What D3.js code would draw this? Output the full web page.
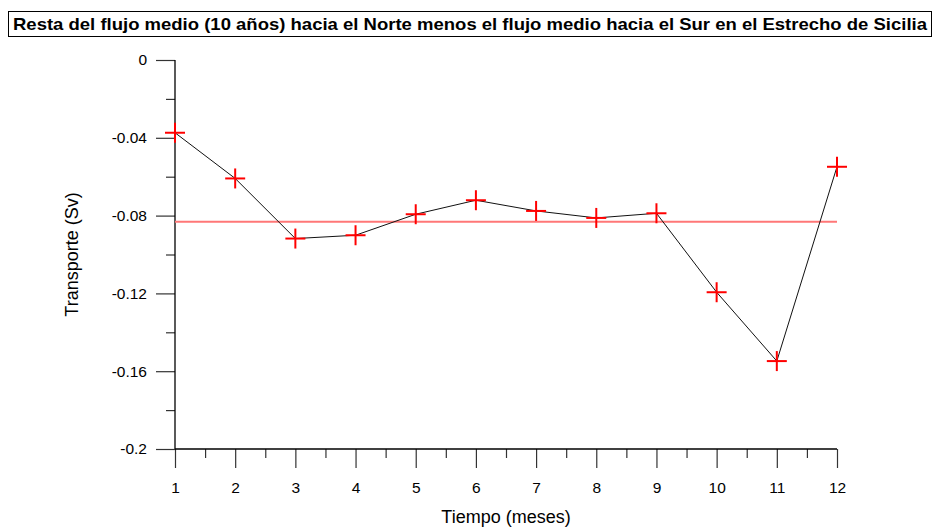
<!DOCTYPE html>
<html>
<head>
<meta charset="utf-8">
<script src="https://cdn.jsdelivr.net/npm/d3@7"></script>
<style>
  body { margin: 0; background: #fff; }
  svg { display: block; font-family: "Liberation Sans", Arial, sans-serif; }
</style>
</head>
<body>
<svg id="chart"></svg>
<script>
const months = [1, 2, 3, 4, 5, 6, 7, 8, 9, 10, 11, 12];
const transport = [-0.0374, -0.0609, -0.0918, -0.0901, -0.0793, -0.0721,
                   -0.0776, -0.0812, -0.0788, -0.1194, -0.1548, -0.0549];
const yTicks = [0, -0.04, -0.08, -0.12, -0.16, -0.2];
const yTickLabels = ['0', '-0.04', '-0.08', '-0.12', '-0.16', '-0.2'];
const yMinorTicks = [-0.02, -0.06, -0.10, -0.14, -0.18];
const xMinorTicks = [1.5, 2.5, 3.5, 4.5, 5.5, 6.5, 7.5, 8.5, 9.5, 10.5, 11.5];
const meanValue = d3.mean(transport);

const width = 937,
      height = 528,
      margin = { top: 60, right: 100, bottom: 79, left: 175 };

const $chart = d3.select('#chart')
                 .attr('width', width)
                 .attr('height', height);

const x = d3.scaleLinear()
  .domain([1, 12])
  .range([margin.left, width - margin.right]);

const y = d3.scaleLinear()
  .domain([-0.2, 0])
  .range([height - margin.bottom, margin.top]);

// title box
$chart.append('rect')
  .attr('x', 8.5)
  .attr('y', 11.5)
  .attr('width', 923)
  .attr('height', 25)
  .attr('fill', 'none')
  .attr('stroke', '#000')
  .attr('stroke-width', 1);

$chart.append('text')
  .attr('x', 470)
  .attr('y', 30)
  .attr('text-anchor', 'middle')
  .attr('font-size', 17)
  .attr('font-weight', 'bold')
  .attr('textLength', 914)
  .attr('lengthAdjust', 'spacingAndGlyphs')
  .text('Resta del flujo medio (10 años) hacia el Norte menos el flujo medio hacia el Sur en el Estrecho de Sicilia');

// y axis
const yAxis = $chart.append('g')
  .attr('transform', `translate(${margin.left},0)`)
  .call(d3.axisLeft(y)
    .tickValues(yTicks)
    .tickSize(19)
    .tickPadding(9)
    .tickFormat((d, i) => yTickLabels[i]));

yAxis.select('.domain').remove();
yAxis.selectAll('text')
  .attr('font-size', 15.5)
  .attr('font-family', '"Liberation Sans", Arial, sans-serif')
  .attr('fill', '#000');

$chart.append('g')
  .attr('transform', `translate(${margin.left},0)`)
  .call(d3.axisLeft(y).tickValues(yMinorTicks).tickSize(9).tickFormat(''))
  .select('.domain').remove();

$chart.append('line')
  .attr('x1', margin.left)
  .attr('x2', margin.left)
  .attr('y1', y(0))
  .attr('y2', y(-0.2))
  .attr('stroke', '#000')
  .attr('stroke-width', 1.3);

// x axis
const xAxis = $chart.append('g')
  .attr('transform', `translate(0,${y(-0.2)})`)
  .call(d3.axisBottom(x)
    .tickValues(months)
    .tickSize(19)
    .tickPadding(14)
    .tickFormat(d3.format('d')));

xAxis.select('.domain').remove();
xAxis.selectAll('text')
  .attr('font-size', 15.5)
  .attr('font-family', '"Liberation Sans", Arial, sans-serif')
  .attr('fill', '#000');

$chart.append('g')
  .attr('transform', `translate(0,${y(-0.2)})`)
  .call(d3.axisBottom(x).tickValues(xMinorTicks).tickSize(9).tickFormat(''))
  .select('.domain').remove();

$chart.append('line')
  .attr('x1', margin.left)
  .attr('x2', x(12))
  .attr('y1', y(-0.2))
  .attr('y2', y(-0.2))
  .attr('stroke', '#000')
  .attr('stroke-width', 1.3);

$chart.selectAll('.tick line')
  .attr('stroke', '#333')
  .attr('stroke-width', 1.2);

// axis titles
$chart.append('text')
  .attr('x', (x(1) + x(12)) / 2)
  .attr('y', 523)
  .attr('text-anchor', 'middle')
  .attr('font-size', 18)
  .text('Tiempo (meses)');

$chart.append('text')
  .attr('transform', `translate(78,${(y(0) + y(-0.2)) / 2}) rotate(-90)`)
  .attr('text-anchor', 'middle')
  .attr('font-size', 18)
  .text('Transporte (Sv)');

// mean line
$chart.append('line')
  .attr('x1', x(1))
  .attr('x2', x(12))
  .attr('y1', y(meanValue))
  .attr('y2', y(meanValue))
  .attr('stroke', '#ff7777')
  .attr('stroke-width', 2);

// series line
const data = months.map((m, i) => ({ month: m, value: transport[i] }));

$chart.append('path')
  .datum(data)
  .attr('fill', 'none')
  .attr('stroke', '#111')
  .attr('stroke-width', 1)
  .attr('d', d3.line()
    .x((d) => x(d.month))
    .y((d) => y(d.value)));

// cross markers
const crossSize = 10;
const crosses = $chart.selectAll('.cross')
  .data(data)
  .enter()
  .append('g')
    .classed('cross', true)
    .attr('transform', (d) => `translate(${x(d.month)},${y(d.value)})`);

crosses.append('line')
  .attr('x1', -crossSize)
  .attr('x2', crossSize)
  .attr('y1', 0)
  .attr('y2', 0)
  .attr('stroke', '#f00')
  .attr('stroke-width', 2);

crosses.append('line')
  .attr('x1', 0)
  .attr('x2', 0)
  .attr('y1', -crossSize)
  .attr('y2', crossSize)
  .attr('stroke', '#f00')
  .attr('stroke-width', 2);
</script>
</body>
</html>
